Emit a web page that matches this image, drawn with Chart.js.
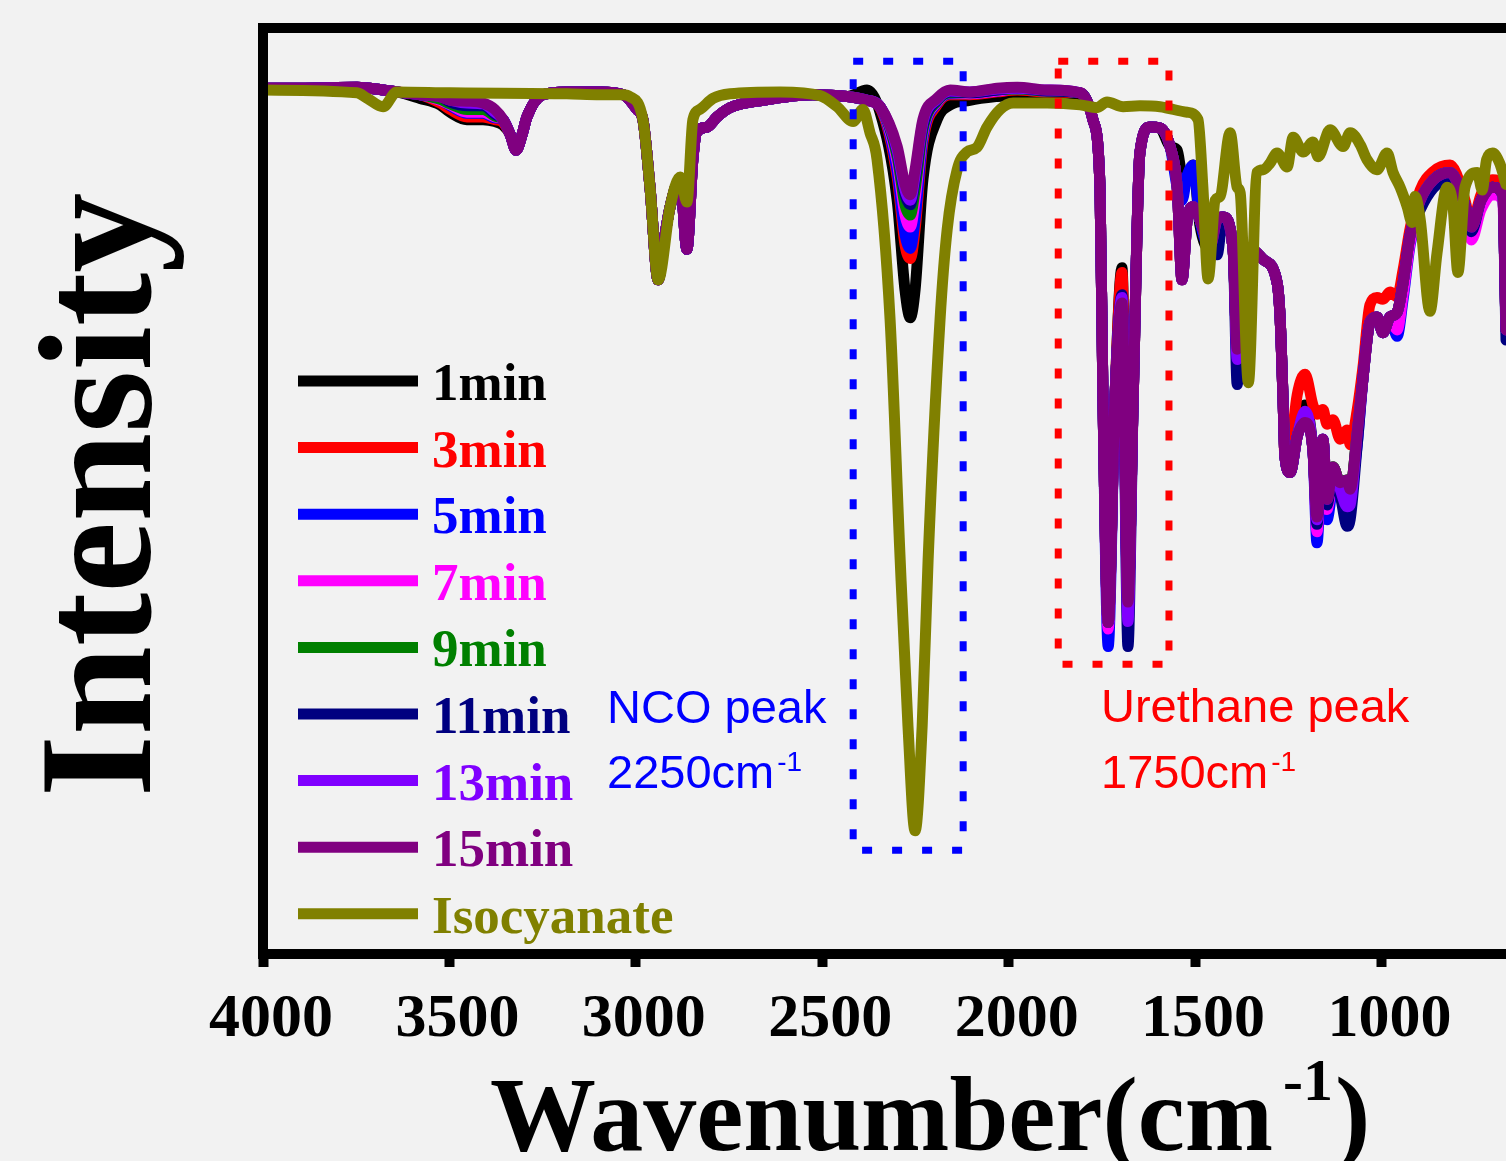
<!DOCTYPE html>
<html>
<head>
<meta charset="utf-8">
<script src="https://cdn.jsdelivr.net/npm/chart.js@4.4.0/dist/chart.umd.min.js"></script>
<style>
  html, body { margin: 0; padding: 0; background: #f2f2f2; }
  #wrap { width: 1506px; height: 1161px; }
</style>
</head>
<body>
<div id="wrap"><canvas id="ftirChart" width="1506" height="1161"></canvas></div>
<script>
// FTIR spectra, transmittance in arbitrary units (0-100)
const timeLabels = ['1min', '3min', '5min', '7min', '9min', '11min', '13min', '15min'];
const timeColors = ['#000000', '#ff0000', '#0000ff', '#ff00ff', '#008000', '#000080', '#8000ff', '#800080'];
const isoLabel = 'Isocyanate';
const isoColor = '#808000';
const xTickValues = [4000, 3500, 3000, 2500, 2000, 1500, 1000];

// shared wavenumber grid for the timed spectra (cm-1)
const wavenumbers = [
  4000, 3901, 3748, 3678, 3641, 3579, 3525, 3498, 3453, 3410,
  3378, 3356, 3337, 3321, 3305, 3292, 3249, 3185, 3096, 3034,
  3016, 2997, 2981, 2962, 2940, 2924, 2908, 2881, 2863, 2847,
  2836, 2809, 2782, 2747, 2659, 2525, 2433, 2380, 2345, 2299,
  2278, 2264, 2251, 2230, 2192, 2157, 2104, 2031, 1977, 1897,
  1808, 1774, 1755, 1747, 1733, 1715, 1696, 1680, 1666, 1648,
  1621, 1594, 1567, 1548, 1535, 1521, 1505, 1487, 1460, 1441,
  1425, 1398, 1387, 1375, 1352, 1317, 1280, 1272, 1264, 1259,
  1245, 1226, 1205, 1184, 1173, 1157, 1146, 1130, 1111, 1092,
  1084, 1065, 1049, 1031, 1012, 996, 977, 958, 942, 923,
  896, 861, 816, 776, 759, 733, 702, 675, 666
];

const t1min = [
  93.5, 93.5, 93.6, 93.3, 93.1, 92.4, 91.7, 90.9, 90.1, 90.1,
  89.9, 89.5, 88.5, 86.8, 88.5, 90.4, 92.8, 93.1, 93.1, 92.8,
  92.2, 91.2, 90.1, 82.8, 72.8, 77.1, 80.7, 83.6, 76.1, 85.8,
  88.8, 89.3, 90.4, 91.4, 92.2, 92.8, 92.6, 93.3, 90.9, 81.4,
  71.7, 68.7, 71.7, 83.6, 90.1, 91.7, 92.2, 92.6, 92.8, 93.0,
  92.8, 90.1, 82.8, 59.9, 35.8, 59.9, 74.1, 38.0, 59.9, 86.5,
  89.3, 89.2, 87.2, 86.8, 84.1, 83.8, 85.2, 78.7, 76.1, 79.3,
  79.6, 76.1, 65.3, 71.7, 76.1, 75.0, 72.5, 68.8, 59.9, 53.7,
  52.0, 55.9, 59.3, 54.5, 47.2, 55.6, 49.1, 52.6, 50.9, 51.2,
  50.2, 56.3, 62.4, 68.2, 68.8, 67.1, 68.8, 69.3, 72.5, 77.7,
  81.4, 83.6, 84.4, 80.9, 78.5, 81.4, 82.8, 82.0, 67.4
];
const t3min = [
  93.5, 93.5, 93.6, 93.3, 93.1, 92.8, 91.9, 91.2, 90.4, 90.4,
  90.1, 89.8, 88.5, 86.8, 88.5, 90.4, 92.8, 93.1, 93.1, 92.8,
  92.2, 91.2, 90.1, 82.8, 72.8, 77.1, 80.7, 83.6, 76.1, 85.8,
  88.8, 89.3, 90.4, 91.4, 92.2, 92.8, 92.6, 92.2, 91.4, 83.9,
  76.6, 75.1, 78.2, 87.6, 91.7, 92.8, 92.8, 93.1, 93.3, 93.1,
  93.0, 90.1, 82.8, 59.9, 35.8, 59.9, 73.6, 38.0, 59.9, 86.5,
  89.3, 89.2, 87.2, 82.8, 72.8, 79.3, 80.7, 79.3, 76.4, 79.3,
  79.6, 76.1, 65.3, 71.7, 76.1, 75.0, 72.5, 68.8, 59.9, 53.7,
  54.5, 60.4, 62.6, 59.3, 58.3, 58.8, 57.2, 57.7, 55.6, 56.6,
  55.0, 58.8, 63.6, 70.1, 70.9, 70.7, 71.5, 71.0, 73.9, 78.4,
  82.5, 84.5, 85.2, 81.4, 78.7, 82.0, 83.6, 83.1, 67.4
];
const t5min = [
  93.5, 93.5, 93.6, 93.3, 93.1, 92.8, 92.2, 91.6, 90.8, 90.8,
  90.3, 90.1, 88.5, 86.8, 88.5, 90.4, 92.8, 93.1, 93.1, 92.8,
  92.2, 91.2, 90.1, 82.8, 72.8, 77.1, 80.7, 83.6, 76.1, 85.8,
  88.8, 89.3, 90.4, 91.4, 92.2, 92.8, 92.6, 92.2, 91.5, 84.5,
  77.7, 76.2, 79.3, 88.1, 91.9, 92.9, 92.9, 93.2, 93.4, 93.2,
  93.0, 90.1, 82.8, 59.9, 33.2, 59.9, 70.0, 38.0, 59.9, 86.5,
  89.3, 89.2, 87.2, 82.8, 81.4, 84.1, 85.2, 79.3, 76.4, 79.3,
  79.6, 76.1, 65.3, 71.7, 76.1, 75.0, 72.5, 68.8, 59.9, 53.7,
  52.0, 55.9, 57.4, 54.5, 44.4, 55.6, 46.9, 50.2, 49.9, 49.1,
  49.6, 55.0, 62.4, 68.2, 68.8, 67.1, 68.8, 66.7, 70.7, 76.6,
  80.9, 83.6, 84.4, 80.9, 78.5, 81.4, 82.8, 82.0, 67.4
];
const t7min = [
  93.5, 93.5, 93.6, 93.3, 93.1, 92.8, 92.2, 91.7, 90.9, 90.9,
  90.4, 90.1, 88.5, 86.8, 88.5, 90.4, 92.8, 93.1, 93.1, 92.8,
  92.2, 91.2, 90.1, 82.8, 72.8, 77.1, 80.7, 83.6, 76.1, 85.8,
  88.8, 89.3, 90.4, 91.4, 92.2, 92.8, 92.6, 92.2, 91.5, 85.5,
  79.8, 78.5, 81.4, 88.7, 92.0, 93.0, 92.9, 93.2, 93.4, 93.2,
  93.0, 90.1, 82.8, 59.9, 35.1, 59.9, 70.0, 38.0, 59.9, 86.5,
  89.3, 89.2, 87.2, 82.8, 72.8, 79.3, 80.7, 79.3, 76.4, 79.3,
  79.6, 76.1, 65.3, 71.7, 76.1, 75.0, 72.5, 68.8, 59.9, 53.7,
  52.0, 55.9, 57.4, 54.5, 45.6, 55.6, 48.0, 51.2, 50.2, 49.1,
  49.6, 55.6, 62.4, 68.2, 68.8, 67.1, 68.8, 67.4, 71.2, 76.9,
  80.9, 83.1, 83.6, 79.8, 77.1, 80.4, 82.0, 81.4, 67.4
];
const t9min = [
  93.5, 93.5, 93.6, 93.3, 93.1, 92.8, 92.3, 91.8, 91.2, 91.2,
  90.5, 90.1, 88.5, 86.8, 88.5, 90.4, 92.8, 93.1, 93.1, 92.8,
  92.2, 91.2, 90.1, 82.8, 72.8, 77.1, 80.7, 83.6, 76.1, 85.8,
  88.8, 89.3, 90.4, 91.4, 92.2, 92.8, 92.6, 92.2, 91.5, 86.1,
  80.9, 79.8, 82.5, 89.0, 92.1, 93.0, 93.0, 93.3, 93.4, 93.2,
  93.0, 90.1, 82.8, 59.9, 35.8, 59.9, 70.0, 38.0, 59.9, 86.5,
  89.3, 89.2, 87.2, 82.8, 72.8, 79.3, 80.7, 79.3, 76.4, 79.3,
  79.6, 76.1, 65.3, 71.7, 76.1, 75.0, 72.5, 68.8, 59.9, 53.7,
  52.0, 55.9, 58.3, 54.5, 47.2, 55.6, 49.1, 52.6, 50.9, 51.2,
  50.2, 56.3, 62.4, 68.2, 68.8, 67.1, 68.8, 69.3, 72.5, 77.7,
  81.4, 83.6, 84.4, 80.9, 78.5, 81.4, 82.8, 82.0, 67.4
];
const t11min = [
  93.5, 93.5, 93.6, 93.3, 93.1, 92.8, 92.6, 92.0, 91.6, 91.6,
  90.7, 90.1, 88.5, 86.8, 88.5, 90.4, 92.8, 93.1, 93.1, 92.8,
  92.2, 91.2, 90.1, 82.8, 72.8, 77.1, 80.7, 83.6, 76.1, 85.8,
  88.8, 89.3, 90.4, 91.4, 92.2, 92.8, 92.6, 92.2, 91.5, 86.6,
  82.0, 80.9, 83.6, 89.4, 92.2, 93.1, 93.0, 93.3, 93.5, 93.2,
  93.0, 90.1, 82.8, 59.9, 35.8, 59.9, 71.2, 33.2, 59.9, 86.5,
  89.3, 89.2, 87.2, 82.8, 72.8, 79.3, 80.7, 79.3, 76.4, 75.5,
  79.6, 76.1, 61.5, 71.7, 76.1, 75.0, 72.5, 68.8, 59.9, 53.7,
  52.0, 55.9, 57.7, 54.5, 46.4, 55.6, 48.5, 51.8, 49.6, 46.2,
  46.9, 55.0, 62.4, 68.2, 68.8, 67.1, 68.8, 69.3, 72.5, 77.7,
  80.4, 82.7, 83.8, 80.9, 78.0, 81.4, 82.8, 82.0, 66.3
];
const t13min = [
  93.5, 93.5, 93.6, 93.3, 93.1, 92.8, 92.6, 92.2, 91.9, 91.8,
  90.9, 90.1, 88.5, 86.8, 88.5, 90.4, 92.8, 93.1, 93.1, 92.8,
  92.2, 91.2, 90.1, 82.8, 72.8, 77.1, 80.7, 83.6, 76.1, 85.8,
  88.8, 89.3, 90.4, 91.4, 92.2, 92.8, 92.6, 92.2, 91.5, 86.8,
  82.5, 81.4, 84.1, 89.8, 92.3, 93.2, 93.1, 93.4, 93.5, 93.3,
  93.0, 90.1, 82.8, 59.9, 35.8, 59.9, 70.9, 35.9, 59.9, 86.5,
  89.3, 89.2, 87.2, 82.8, 72.8, 79.3, 80.7, 79.3, 76.4, 79.3,
  79.6, 76.1, 64.2, 71.7, 76.1, 75.0, 72.5, 68.8, 59.9, 53.7,
  52.0, 55.9, 58.6, 54.5, 46.9, 55.6, 49.1, 52.3, 50.2, 48.3,
  48.5, 56.3, 62.4, 68.2, 68.8, 67.1, 68.8, 69.3, 72.5, 77.7,
  81.4, 83.6, 84.4, 80.9, 78.5, 81.4, 82.8, 82.0, 67.4
];
const t15min = [
  93.5, 93.5, 93.6, 93.3, 93.1, 92.8, 92.6, 92.2, 92.1, 91.9,
  91.2, 90.1, 88.5, 86.8, 88.5, 90.4, 92.8, 93.1, 93.1, 92.8,
  92.2, 91.2, 90.1, 82.8, 72.8, 77.1, 80.7, 83.6, 76.1, 85.8,
  88.8, 89.3, 90.4, 91.4, 92.2, 92.8, 92.6, 92.2, 91.5, 87.2,
  83.1, 82.0, 84.7, 90.1, 92.4, 93.3, 93.1, 93.5, 93.6, 93.3,
  93.0, 90.1, 82.8, 59.9, 35.8, 59.9, 70.3, 38.0, 59.9, 86.5,
  89.3, 89.2, 87.2, 82.8, 72.8, 79.3, 80.7, 79.3, 76.4, 79.3,
  79.6, 76.1, 65.3, 71.7, 76.1, 75.0, 72.5, 68.8, 59.9, 53.7,
  52.0, 55.9, 57.4, 54.5, 47.2, 55.6, 49.1, 52.6, 50.9, 51.2,
  50.2, 56.3, 62.4, 68.2, 68.8, 67.1, 68.8, 69.3, 72.5, 77.7,
  81.4, 83.6, 84.4, 80.9, 78.5, 81.4, 82.8, 82.0, 67.4
];
const timeSeries = [t1min, t3min, t5min, t7min, t9min, t11min, t13min, t15min];

// pure isocyanate spectrum
const isoWavenumbers = [
  4000, 3748, 3720, 3678, 3641, 3498, 3185, 3096, 3034, 3016,
  2981, 2962, 2940, 2908, 2881, 2863, 2847, 2828, 2793, 2747,
  2613, 2506, 2460, 2417, 2391, 2372, 2353, 2318, 2291, 2270,
  2251, 2232, 2216, 2184, 2165, 2138, 2112, 2085, 2058, 2023,
  1988, 1897, 1808, 1763, 1736, 1693, 1648, 1594, 1521, 1492,
  1479, 1465, 1446, 1433, 1406, 1387, 1379, 1357, 1334, 1317,
  1299, 1280, 1253, 1237, 1210, 1184, 1170, 1138, 1103, 1084,
  1057, 1039, 1012, 985, 969, 950, 931, 918, 910, 896,
  870, 851, 824, 808, 795, 776, 743, 730, 718, 702,
  683, 666
];
const isoValues = [
  93.3, 93.0, 92.4, 91.5, 93.1, 93.0, 92.9, 92.8, 92.8, 92.6,
  90.1, 82.8, 72.8, 80.7, 83.9, 81.2, 90.1, 91.2, 92.4, 92.9,
  93.1, 92.7, 91.5, 89.9, 91.2, 88.7, 85.8, 68.5, 42.6, 24.6,
  13.3, 24.6, 42.6, 68.5, 78.2, 84.7, 86.6, 87.1, 89.3, 91.2,
  91.9, 91.9, 91.7, 91.4, 92.0, 91.5, 91.6, 91.5, 90.9, 90.1,
  82.8, 72.9, 81.4, 81.8, 88.7, 82.8, 82.2, 61.7, 84.4, 84.7,
  85.4, 86.5, 85.0, 88.2, 86.6, 87.7, 86.1, 89.0, 87.2, 88.7,
  87.4, 85.8, 84.7, 86.5, 84.4, 82.8, 80.7, 79.0, 81.8, 79.3,
  69.4, 75.7, 82.8, 80.7, 73.6, 82.8, 84.4, 82.5, 85.8, 86.5,
  85.4, 83.1
];

// dotted highlight boxes (wavenumber range, intensity range)
const ncoBox = { from: 2417, to: 2122, top: 96.4, bottom: 11.2 };
const urethaneBox = { from: 1867, to: 1570, top: 96.4, bottom: 31.3 };

const serif = '"Liberation Serif", "Times New Roman", serif';
const sans = '"Liberation Sans", Arial, sans-serif';

const lineStyle = {
  borderWidth: 11,
  pointRadius: 0,
  cubicInterpolationMode: 'monotone',
  borderJoinStyle: 'round',
  borderCapStyle: 'round',
  clip: 0
};

const datasets = timeSeries.map((vals, i) => Object.assign({
  label: timeLabels[i],
  data: wavenumbers.map((w, j) => ({ x: w, y: vals[j] })),
  borderColor: timeColors[i],
  order: 8 - i
}, lineStyle));
datasets.push(Object.assign({
  label: isoLabel,
  data: isoWavenumbers.map((w, j) => ({ x: w, y: isoValues[j] })),
  borderColor: isoColor,
  order: -1
}, lineStyle));

function drawWithSup(ctx, main, sup, x, y, size, supSize, rise, font, gap, tail) {
  ctx.font = size + 'px ' + font;
  ctx.fillText(main, x, y);
  let cx = x + ctx.measureText(main).width;
  ctx.font = supSize + 'px ' + font;
  ctx.fillText(sup, cx + gap, y - rise);
  cx += gap + ctx.measureText(sup).width;
  if (tail) {
    ctx.font = size + 'px ' + font;
    ctx.fillText(tail, cx + 2, y);
  }
}

const decorPlugin = {
  id: 'decor',
  afterDatasetsDraw(chart) {
    const { ctx, chartArea: a, scales: { x, y } } = chart;
    ctx.save();

    // frame top and left edge
    ctx.strokeStyle = '#000';
    ctx.lineWidth = 10;
    ctx.beginPath();
    ctx.moveTo(a.left - 5, a.top);
    ctx.lineTo(a.right, a.top);
    ctx.moveTo(a.left, a.top - 5);
    ctx.lineTo(a.left, a.bottom + 5);
    ctx.stroke();

    // dotted boxes
    [[ncoBox, '#0000ff'], [urethaneBox, '#ff0000']].forEach(([b, c]) => {
      const l = x.getPixelForValue(b.from), r = x.getPixelForValue(b.to);
      const t = y.getPixelForValue(b.top), bt = y.getPixelForValue(b.bottom);
      ctx.strokeStyle = c;
      ctx.lineWidth = 7;
      ctx.setLineDash([10, 20]);
      ctx.strokeRect(l, t, r - l, bt - t);
    });
    ctx.setLineDash([]);

    // peak labels
    ctx.textAlign = 'left';
    ctx.textBaseline = 'alphabetic';
    ctx.fillStyle = '#0000ff';
    ctx.font = '47px ' + sans;
    ctx.fillText('NCO peak', 607, 723);
    drawWithSup(ctx, '2250cm', '-1', 607, 788, 47, 28, 17, sans, 3);
    ctx.fillStyle = '#ff0000';
    ctx.font = '47px ' + sans;
    ctx.fillText('Urethane peak', 1101, 722);
    drawWithSup(ctx, '1750cm', '-1', 1101, 788, 47, 28, 17, sans, 3);

    // legend
    const names = timeLabels.concat([isoLabel]);
    const colors = timeColors.concat([isoColor]);
    names.forEach((n, i) => {
      const ly = 381 + i * 66.6;
      ctx.strokeStyle = colors[i];
      ctx.lineWidth = 11;
      ctx.beginPath();
      ctx.moveTo(298, ly);
      ctx.lineTo(418, ly);
      ctx.stroke();
      ctx.fillStyle = colors[i];
      ctx.font = 'bold 53px ' + serif;
      ctx.fillText(n, 432, ly + 19);
    });

    // axis titles
    ctx.fillStyle = '#000';
    drawWithSup(ctx, 'Wavenumber(cm', '-1', 490, 1150, 'bold 106', 'bold 60', 50, serif, 10, ')');
    ctx.save();
    ctx.translate(150, 495);
    ctx.rotate(-Math.PI / 2);
    ctx.textAlign = 'center';
    ctx.font = 'bold 160px ' + serif;
    ctx.fillText('Intensity', 0, 0);
    ctx.restore();

    ctx.restore();
  }
};

new Chart(document.getElementById('ftirChart'), {
  type: 'line',
  data: { datasets },
  options: {
    responsive: false,
    animation: false,
    devicePixelRatio: 1,
    layout: { padding: { top: 28, left: 0, right: 0, bottom: 0 } },
    plugins: { legend: { display: false }, tooltip: { enabled: false } },
    scales: {
      x: {
        type: 'linear',
        reverse: true,
        min: 666,
        max: 4000,
        afterFit: (s) => { s.height = 207; },
        afterBuildTicks: (s) => { s.ticks = xTickValues.map(v => ({ value: v })); },
        ticks: {
          color: '#000',
          font: { family: serif, size: 62, weight: 'bold' },
          padding: 16,
          labelOffset: 8,
          maxRotation: 0,
          autoSkip: false,
          callback: (v) => String(v)
        },
        grid: { display: true, drawOnChartArea: false, drawTicks: true, tickLength: 13, tickWidth: 10, tickColor: '#000' },
        border: { display: true, color: '#000', width: 10 }
      },
      y: {
        min: 0,
        max: 100,
        afterFit: (s) => { s.width = 263; },
        ticks: { display: false },
        grid: { display: false },
        border: { display: true, color: '#000', width: 10 }
      }
    }
  },
  plugins: [decorPlugin]
});
</script>
</body>
</html>
